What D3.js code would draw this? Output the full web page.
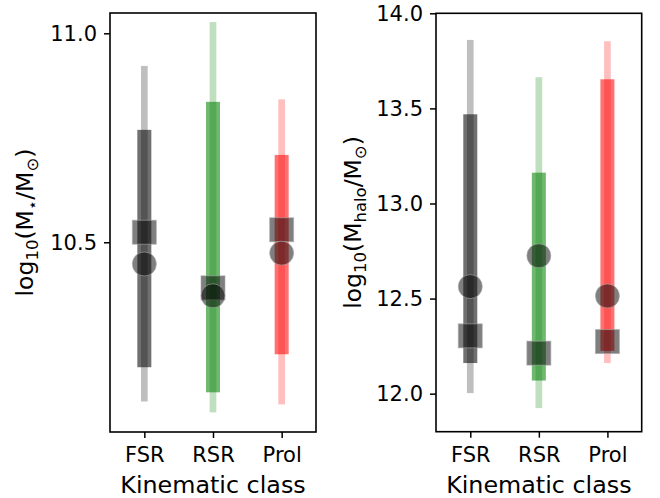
<!DOCTYPE html>
<html><head><meta charset="utf-8">
<script src="https://cdn.jsdelivr.net/npm/d3@7"></script>
<style>body{margin:0;background:#fff}svg{display:block}text{font-family:"DejaVu Sans",sans-serif;fill:#000}</style>
</head><body>
<script>
const categories = ["FSR", "RSR", "Prol"];
const classColors = ["#000000", "#008000", "#ff0000"];

// Stellar mass panel
const mstarLo95 = [10.119, 10.093, 10.112];
const mstarHi95 = [10.922, 11.027, 10.842];
const mstarLo68 = [10.201, 10.141, 10.232];
const mstarHi68 = [10.769, 10.836, 10.709];
const mstarCircle = [10.448, 10.372, 10.474];
const mstarSquare = [10.524, 10.391, 10.530];
const mstarTicks = [10.5, 11.0];

// Halo mass panel
const mhaloLo95 = [12.003, 11.924, 12.161];
const mhaloHi95 = [13.860, 13.664, 13.853];
const mhaloLo68 = [12.161, 12.069, 12.225];
const mhaloHi68 = [13.469, 13.162, 13.653];
const mhaloCircle = [12.563, 12.725, 12.514];
const mhaloSquare = [12.304, 12.213, 12.274];
const mhaloTicks = [12.0, 12.5, 13.0, 13.5, 14.0];

const W = 660, H = 498;
const svg = d3.select("body").append("svg").attr("width", W).attr("height", H);

function panel(cfg) {
  const g = svg.append("g");
  const x = d3.scalePoint().domain(categories).range([cfg.x0, cfg.x1]).padding(0.5);
  const y = d3.scaleLinear().domain(cfg.ydom).range([cfg.y1, cfg.y0]);
  const lightW = 6.7, darkW = 14;
  categories.forEach((c, i) => {
    const col = classColors[i];
    g.append("rect").attr("x", x(c) - lightW / 2).attr("width", lightW)
      .attr("y", y(cfg.hi95[i])).attr("height", y(cfg.lo95[i]) - y(cfg.hi95[i]))
      .attr("fill", col).attr("fill-opacity", 0.25);
    g.append("rect").attr("x", x(c) - darkW / 2).attr("width", darkW)
      .attr("y", y(cfg.hi68[i])).attr("height", y(cfg.lo68[i]) - y(cfg.hi68[i]))
      .attr("fill", col).attr("fill-opacity", 0.56);
  });
  const ms = 24;
  categories.forEach((c, i) => {
    g.append("rect").attr("x", x(c) - ms / 2).attr("y", y(cfg.square[i]) - ms / 2)
      .attr("width", ms).attr("height", ms)
      .attr("fill", "#000").attr("fill-opacity", 0.5)
      .attr("stroke", "#aaa").attr("stroke-opacity", 0.6).attr("stroke-width", 1);
  });
  categories.forEach((c, i) => {
    g.append("circle").attr("cx", x(c)).attr("cy", y(cfg.circle[i])).attr("r", ms / 2)
      .attr("fill", "#000").attr("fill-opacity", 0.5)
      .attr("stroke", "#aaa").attr("stroke-opacity", 0.6).attr("stroke-width", 1);
  });
  // frame
  g.append("rect").attr("x", cfg.x0).attr("y", cfg.y0)
    .attr("width", cfg.x1 - cfg.x0).attr("height", cfg.y1 - cfg.y0)
    .attr("fill", "none").attr("stroke", "#000").attr("stroke-width", 1.6);
  // axes
  const ya = d3.axisLeft(y).tickValues(cfg.ticks).tickFormat(d3.format(".1f")).tickSize(6).tickPadding(7);
  const yg = g.append("g").attr("transform", `translate(${cfg.x0},0)`).call(ya)
    .attr("font-size", null).attr("font-family", null);
  yg.select(".domain").remove();
  yg.selectAll("line").attr("stroke-width", 1.5);
  yg.selectAll("text").style("font-size", "21px").style("font-family", "DejaVu Sans").style("fill", "#000");
  const xa = d3.axisBottom(x).tickSize(6).tickPadding(9);
  const xg = g.append("g").attr("transform", `translate(0,${cfg.y1})`).call(xa)
    .attr("font-size", null).attr("font-family", null);
  xg.select(".domain").remove();
  xg.selectAll("line").attr("stroke-width", 1.5);
  xg.selectAll("text").style("font-size", "21px").style("font-family", "DejaVu Sans").style("fill", "#000");
  // x label
  g.append("text").attr("x", (cfg.x0 + cfg.x1) / 2).attr("y", 493)
    .attr("text-anchor", "middle").style("font-size", "23.8px").text("Kinematic class");
  // y label
  const t = g.append("text").attr("text-anchor", "middle").style("font-size", "23.5px")
    .attr("transform", `translate(${cfg.ylx},${(cfg.y0 + cfg.y1) / 2}) rotate(-90)`);
  t.append("tspan").text("log");
  t.append("tspan").style("font-size", "16.5px").attr("dy", 5).text("10");
  t.append("tspan").attr("dy", -5).text("(M");
  t.append("tspan").style("font-size", "16.5px").attr("dy", 5).text(cfg.sub);
  t.append("tspan").attr("dy", -5).text("/M");
  t.append("tspan").style("font-size", "16.5px").attr("dy", 5).text("⊙");
  t.append("tspan").attr("dy", -5).text(")");
}

panel({x0: 110, x1: 316, y0: 13, y1: 432, ydom: [10.046, 11.0486],
  lo95: mstarLo95, hi95: mstarHi95, lo68: mstarLo68, hi68: mstarHi68,
  circle: mstarCircle, square: mstarSquare, ticks: mstarTicks, ylx: 33, sub: "⋆"});
panel({x0: 436, x1: 641.7, y0: 13.3, y1: 431.7, ydom: [11.8, 14.0],
  lo95: mhaloLo95, hi95: mhaloHi95, lo68: mhaloLo68, hi68: mhaloHi68,
  circle: mhaloCircle, square: mhaloSquare, ticks: mhaloTicks, ylx: 361, sub: "halo"});
</script>
</body></html>
